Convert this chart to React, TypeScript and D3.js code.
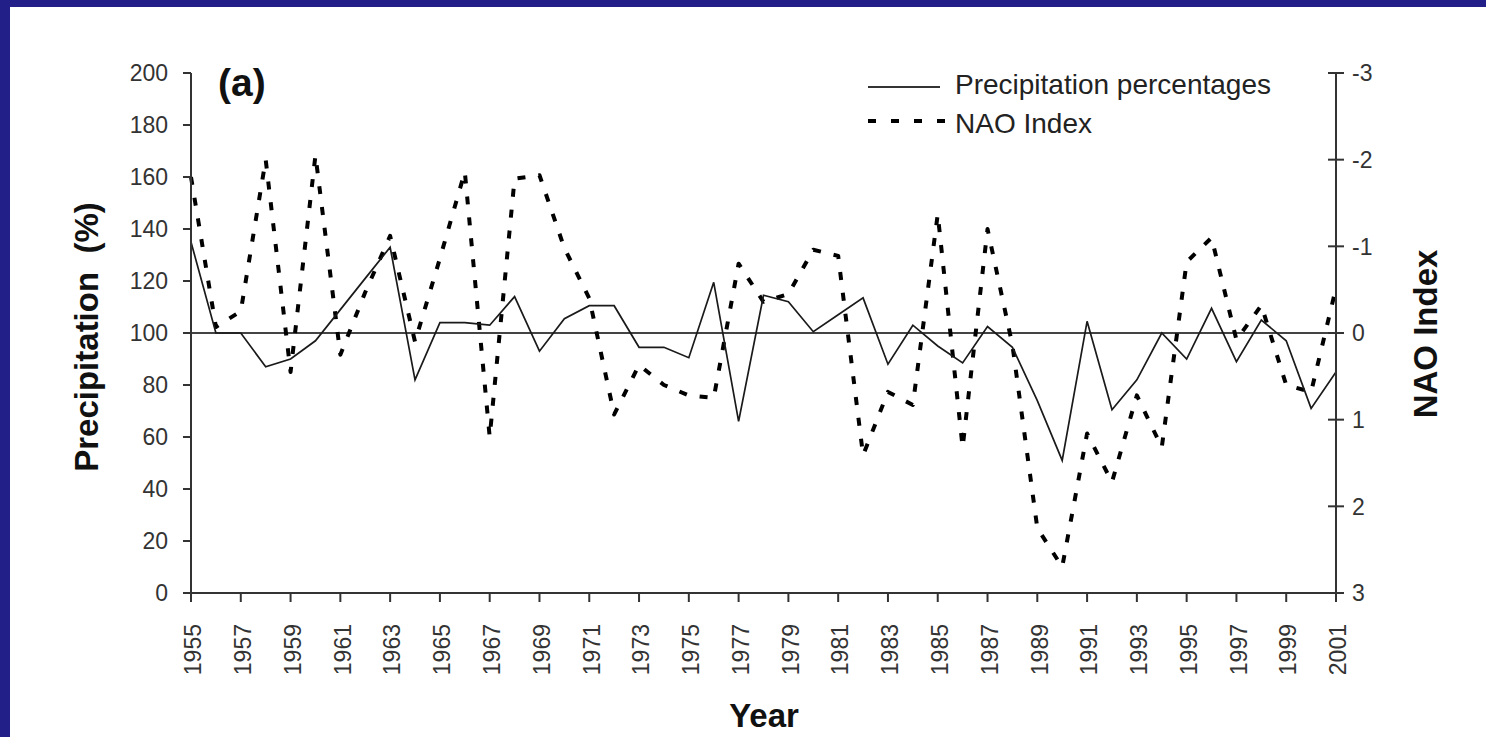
import React from "react";
import * as d3 from "d3";

// Annual series 1955–2001
const years: number[] = d3.range(1955, 2002);

// Precipitation as a percentage of the long-term mean
const precipitation: number[] = [
  135, 100, 100, 87, 90, 97, 109, 121, 133, 82,
  104, 104, 103, 114, 93, 105.5, 110.5, 110.5, 94.5, 94.5,
  90.5, 119.5, 66, 114.5, 112, 100.5, 107, 113.5, 88, 103,
  95, 88.5, 102.5, 94.5, 74, 51, 104.5, 70.5, 82, 100,
  90, 109.5, 89, 105, 97, 71, 85,
];

// Winter NAO index (plotted on an inverted right-hand axis)
const naoIndex: number[] = [
  -1.8, -0.07, -0.25, -2.0, 0.45, -2.05, 0.25, -0.47, -1.12, 0.1,
  -0.86, -1.86, 1.2, -1.78, -1.82, -0.98, -0.4, 0.94, 0.37, 0.6,
  0.72, 0.75, -0.8, -0.36, -0.45, -0.96, -0.89, 1.41, 0.68, 0.83,
  -1.37, 1.32, -1.2, 0.14, 2.25, 2.7, 1.16, 1.72, 0.72, 1.32,
  -0.82, -1.1, 0.08, -0.32, 0.6, 0.68, -0.52,
];

const precipTicks: number[] = [0, 20, 40, 60, 80, 100, 120, 140, 160, 180, 200];
const naoTicks: number[] = [-3, -2, -1, 0, 1, 2, 3];
const yearTicks: number[] = d3.range(1955, 2002, 2);

const W = 1486;
const H = 737;
const FONT = "'Liberation Sans', Arial, Helvetica, sans-serif";
const NAVY = "#231f89";

export default function App() {
  const left = 191;
  const right = 1336;
  const top = 73;
  const bottom = 593;

  const x = d3.scaleLinear().domain([1955, 2001]).range([left, right]);
  const yP = d3.scaleLinear().domain([0, 200]).range([bottom, top]);
  const yN = d3.scaleLinear().domain([-3, 3]).range([top, bottom]);

  const precipLine = d3
    .line<number>()
    .x((_, i) => x(years[i]))
    .y((d) => yP(d));
  const naoLine = d3
    .line<number>()
    .x((_, i) => x(years[i]))
    .y((d) => yN(d));

  return (
    <svg
      width={W}
      height={H}
      style={{ position: "absolute", left: 0, top: 0, display: "block" }}
      fontFamily={FONT}
    >
      <rect x={0} y={0} width={W} height={H} fill={NAVY} />
      <rect x={10} y={7} width={W - 10} height={H - 7} fill="#ffffff" />

      {/* reference line at 100 % */}
      <line x1={left} x2={right} y1={yP(100)} y2={yP(100)} stroke="#444" strokeWidth={2} />

      {/* NAO index, dashed */}
      <path
        d={naoLine(naoIndex) || ""}
        fill="none"
        stroke="#000"
        strokeWidth={4}
        strokeDasharray="8,13"
        strokeLinejoin="round"
      />

      {/* precipitation percentages, solid */}
      <path
        d={precipLine(precipitation) || ""}
        fill="none"
        stroke="#1a1a1a"
        strokeWidth={1.7}
        strokeLinejoin="miter"
      />

      {/* left axis */}
      <line x1={left} x2={left} y1={top} y2={bottom} stroke="#333" strokeWidth={2} />
      {precipTicks.map((t) => (
        <g key={"p" + t}>
          <line x1={left - 8} x2={left} y1={yP(t)} y2={yP(t)} stroke="#333" strokeWidth={2} />
          <text
            x={168}
            y={yP(t)}
            dy="0.36em"
            textAnchor="end"
            fontSize={23}
            fill="#333"
          >
            {t}
          </text>
        </g>
      ))}

      {/* right axis */}
      <line x1={right} x2={right} y1={top} y2={bottom} stroke="#333" strokeWidth={2} />
      {naoTicks.map((t) => (
        <g key={"n" + t}>
          <line x1={right - 8} x2={right + 8} y1={yN(t)} y2={yN(t)} stroke="#333" strokeWidth={2} />
          <text x={1352} y={yN(t)} dy="0.36em" textAnchor="start" fontSize={23} fill="#333">
            {t < 0 ? "-" + Math.abs(t) : String(t)}
          </text>
        </g>
      ))}

      {/* bottom axis */}
      <line x1={left - 8} x2={right} y1={bottom} y2={bottom} stroke="#333" strokeWidth={2} />
      {yearTicks.map((yr) => (
        <g key={"y" + yr}>
          <line x1={x(yr)} x2={x(yr)} y1={bottom} y2={bottom + 9} stroke="#333" strokeWidth={2} />
          <text
            transform={`translate(${x(yr) + 2},${624}) rotate(-90)`}
            dy="0.36em"
            textAnchor="end"
            fontSize={23}
            fill="#333"
          >
            {yr}
          </text>
        </g>
      ))}

      {/* axis titles */}
      <text
        transform={`translate(86,337) rotate(-90)`}
        dy="0.36em"
        textAnchor="middle"
        fontSize={33}
        fontWeight="bold"
        fill="#111"
        style={{ whiteSpace: "pre" }}
      >
        {"Precipitation  (%)"}
      </text>
      <text
        transform={`translate(1425,334) rotate(-90)`}
        dy="0.36em"
        textAnchor="middle"
        fontSize={33}
        fontWeight="bold"
        fill="#111"
      >
        NAO Index
      </text>
      <text x={764} y={727} textAnchor="middle" fontSize={33} fontWeight="bold" fill="#111">
        Year
      </text>

      {/* panel label */}
      <text x={218} y={96} fontSize={39} fontWeight="bold" fill="#111">
        (a)
      </text>

      {/* legend */}
      <line x1={868} x2={940} y1={87} y2={87} stroke="#333" strokeWidth={2} />
      <text x={955} y={94} fontSize={28} fill="#222">
        Precipitation percentages
      </text>
      <line
        x1={868}
        x2={945}
        y1={121}
        y2={121}
        stroke="#000"
        strokeWidth={4}
        strokeDasharray="8,15"
      />
      <text x={955} y={133} fontSize={28} fill="#222">
        NAO Index
      </text>
    </svg>
  );
}
